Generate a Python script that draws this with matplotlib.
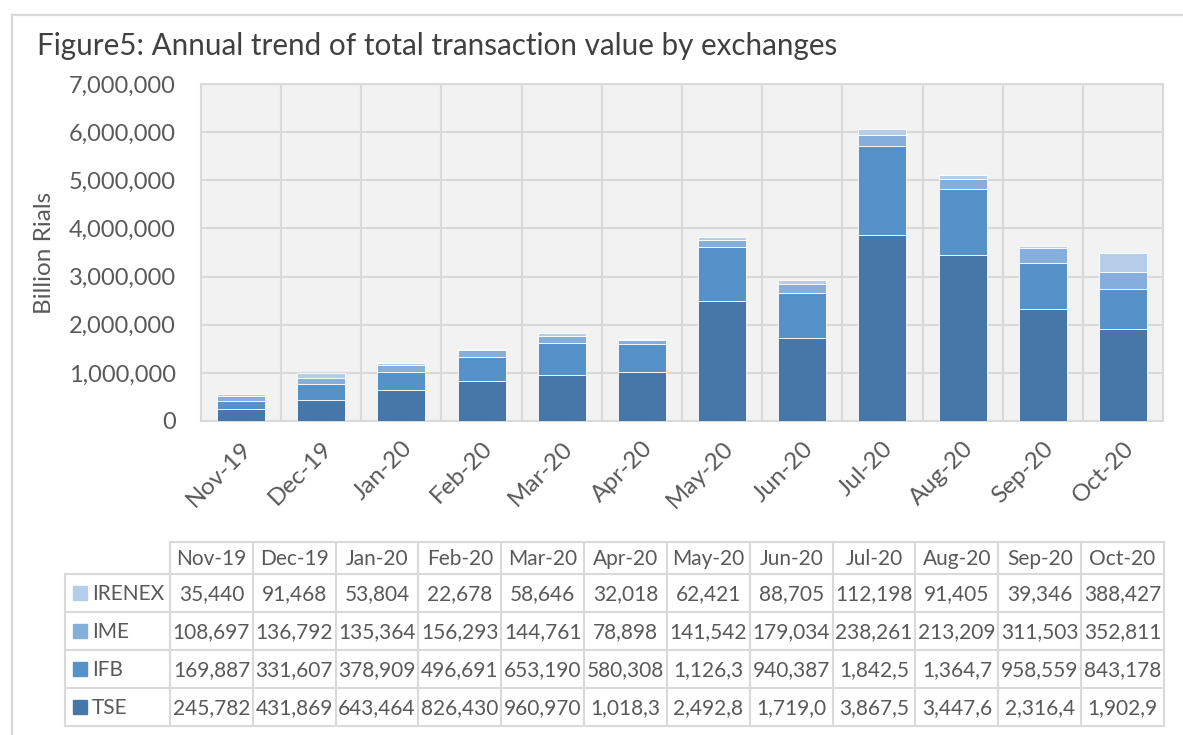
import matplotlib
matplotlib.use("Agg")
import matplotlib.pyplot as plt
from matplotlib.patches import Rectangle
from matplotlib.lines import Line2D
import numpy as np

plt.rcParams['font.family'] = ['Lato', 'DejaVu Sans']

months = ["Nov-19", "Dec-19", "Jan-20", "Feb-20", "Mar-20", "Apr-20",
          "May-20", "Jun-20", "Jul-20", "Aug-20", "Sep-20", "Oct-20"]
tse = [245782, 431869, 643464, 826430, 960970, 1018300,
       2492800, 1719000, 3867500, 3447600, 2316400, 1902900]
ifb = [169887, 331607, 378909, 496691, 653190, 580308,
       1126300, 940387, 1842500, 1364700, 958559, 843178]
ime = [108697, 136792, 135364, 156293, 144761, 78898,
       141542, 179034, 238261, 213209, 311503, 352811]
irenex = [35440, 91468, 53804, 22678, 58646, 32018,
          62421, 88705, 112198, 91405, 39346, 388427]

series = [("TSE", tse, "#4677a8"), ("IFB", ifb, "#5592c8"),
          ("IME", ime, "#85aedd"), ("IRENEX", irenex, "#b5cde9")]
text_col = "#595959"
grid_col = "#d9d9d9"

W, H = 1183, 735
fig = plt.figure(figsize=(W / 100, H / 100), dpi=100)


def fx(px):
    return px / W


def fy(py):
    return 1 - py / H


# outer frame of the chart object
fig.add_artist(Line2D([fx(12), fx(12)], [fy(15), fy(740)], color=grid_col, lw=1.6))
fig.add_artist(Line2D([fx(12), fx(1190)], [fy(15), fy(15)], color=grid_col, lw=1.6))

fig.text(fx(37), fy(46), "Figure5: Annual trend of total transaction value by exchanges",
         fontsize=21.3, color="#404040", va="center", ha="left")

# plot area
ax = fig.add_axes([fx(201), fy(421), fx(1163) - fx(201), (421 - 84) / H])
ax.set_facecolor("#f2f2f2")
x = np.arange(len(months))
bottom = np.zeros(len(months))
for name, vals, col in series:
    ax.bar(x, vals, 0.6, bottom=bottom, color=col, edgecolor="#ffffff",
           linewidth=0.6, zorder=3)
    bottom += np.array(vals)

ax.set_xlim(-0.5, len(months) - 0.5)
ax.set_ylim(0, 7000000)
ax.set_yticks(np.arange(0, 7000001, 1000000))
ax.set_yticklabels([f"{v:,}" for v in range(0, 7000001, 1000000)])
ax.set_xticks(x)
ax.set_xticklabels(months, rotation=45, ha="right", rotation_mode="anchor")
ax.tick_params(length=0, labelsize=17, colors=text_col)
ax.tick_params(axis="y", pad=18)
ax.tick_params(axis="x", pad=12, labelsize=17.5)
for yv in range(1000000, 7000001, 1000000):
    ax.axhline(yv, color=grid_col, lw=1.5, zorder=1)
for xv in np.arange(0.5, len(months) - 0.5, 1):
    ax.axvline(xv, color=grid_col, lw=1.5, zorder=1)
for s in ax.spines.values():
    s.set_color(grid_col)
    s.set_linewidth(1.5)
ax.set_ylabel("Billion Rials", fontsize=17.5, color=text_col, labelpad=10)

# data table under the chart
tab = fig.add_axes([0, 0, 1, 1], zorder=5)
tab.set_xlim(0, W)
tab.set_ylim(H, 0)
tab.axis("off")
tab.patch.set_alpha(0)

left, lab_right, right = 65, 170, 1164
row_top = [542, 574, 612, 650, 688, 726]
col_w = (right - lab_right) / len(months)
col_x = [lab_right + i * col_w for i in range(len(months) + 1)]
lw_t = 1.5

# horizontal rules
tab.plot([lab_right, right], [row_top[0], row_top[0]], color=grid_col, lw=lw_t)
for yy in row_top[1:]:
    tab.plot([left, right], [yy, yy], color=grid_col, lw=lw_t)
# vertical rules
tab.plot([left, left], [row_top[1], row_top[-1]], color=grid_col, lw=lw_t)
for xx in col_x:
    tab.plot([xx, xx], [row_top[0], row_top[-1]], color=grid_col, lw=lw_t)

for i, m in enumerate(months):
    tab.text(col_x[i] + col_w / 2, (row_top[0] + row_top[1]) / 2 + 1, m,
             ha="center", va="center", fontsize=15, color=text_col)

for r, (name, vals, col) in enumerate(reversed(series)):
    yc = (row_top[r + 1] + row_top[r + 2]) / 2
    tab.add_patch(Rectangle((73, yc - 7), 14, 14, color=col))
    tab.text(92, yc + 1, name, ha="left", va="center", fontsize=15, color=text_col)
    for i, v in enumerate(vals):
        # values are clipped to the cell width as in the spreadsheet
        tab.text(col_x[i] + col_w / 2, yc + 1, f"{v:,}"[:7],
                 ha="center", va="center", fontsize=15, color=text_col)

fig.savefig("out.png", dpi=100)
